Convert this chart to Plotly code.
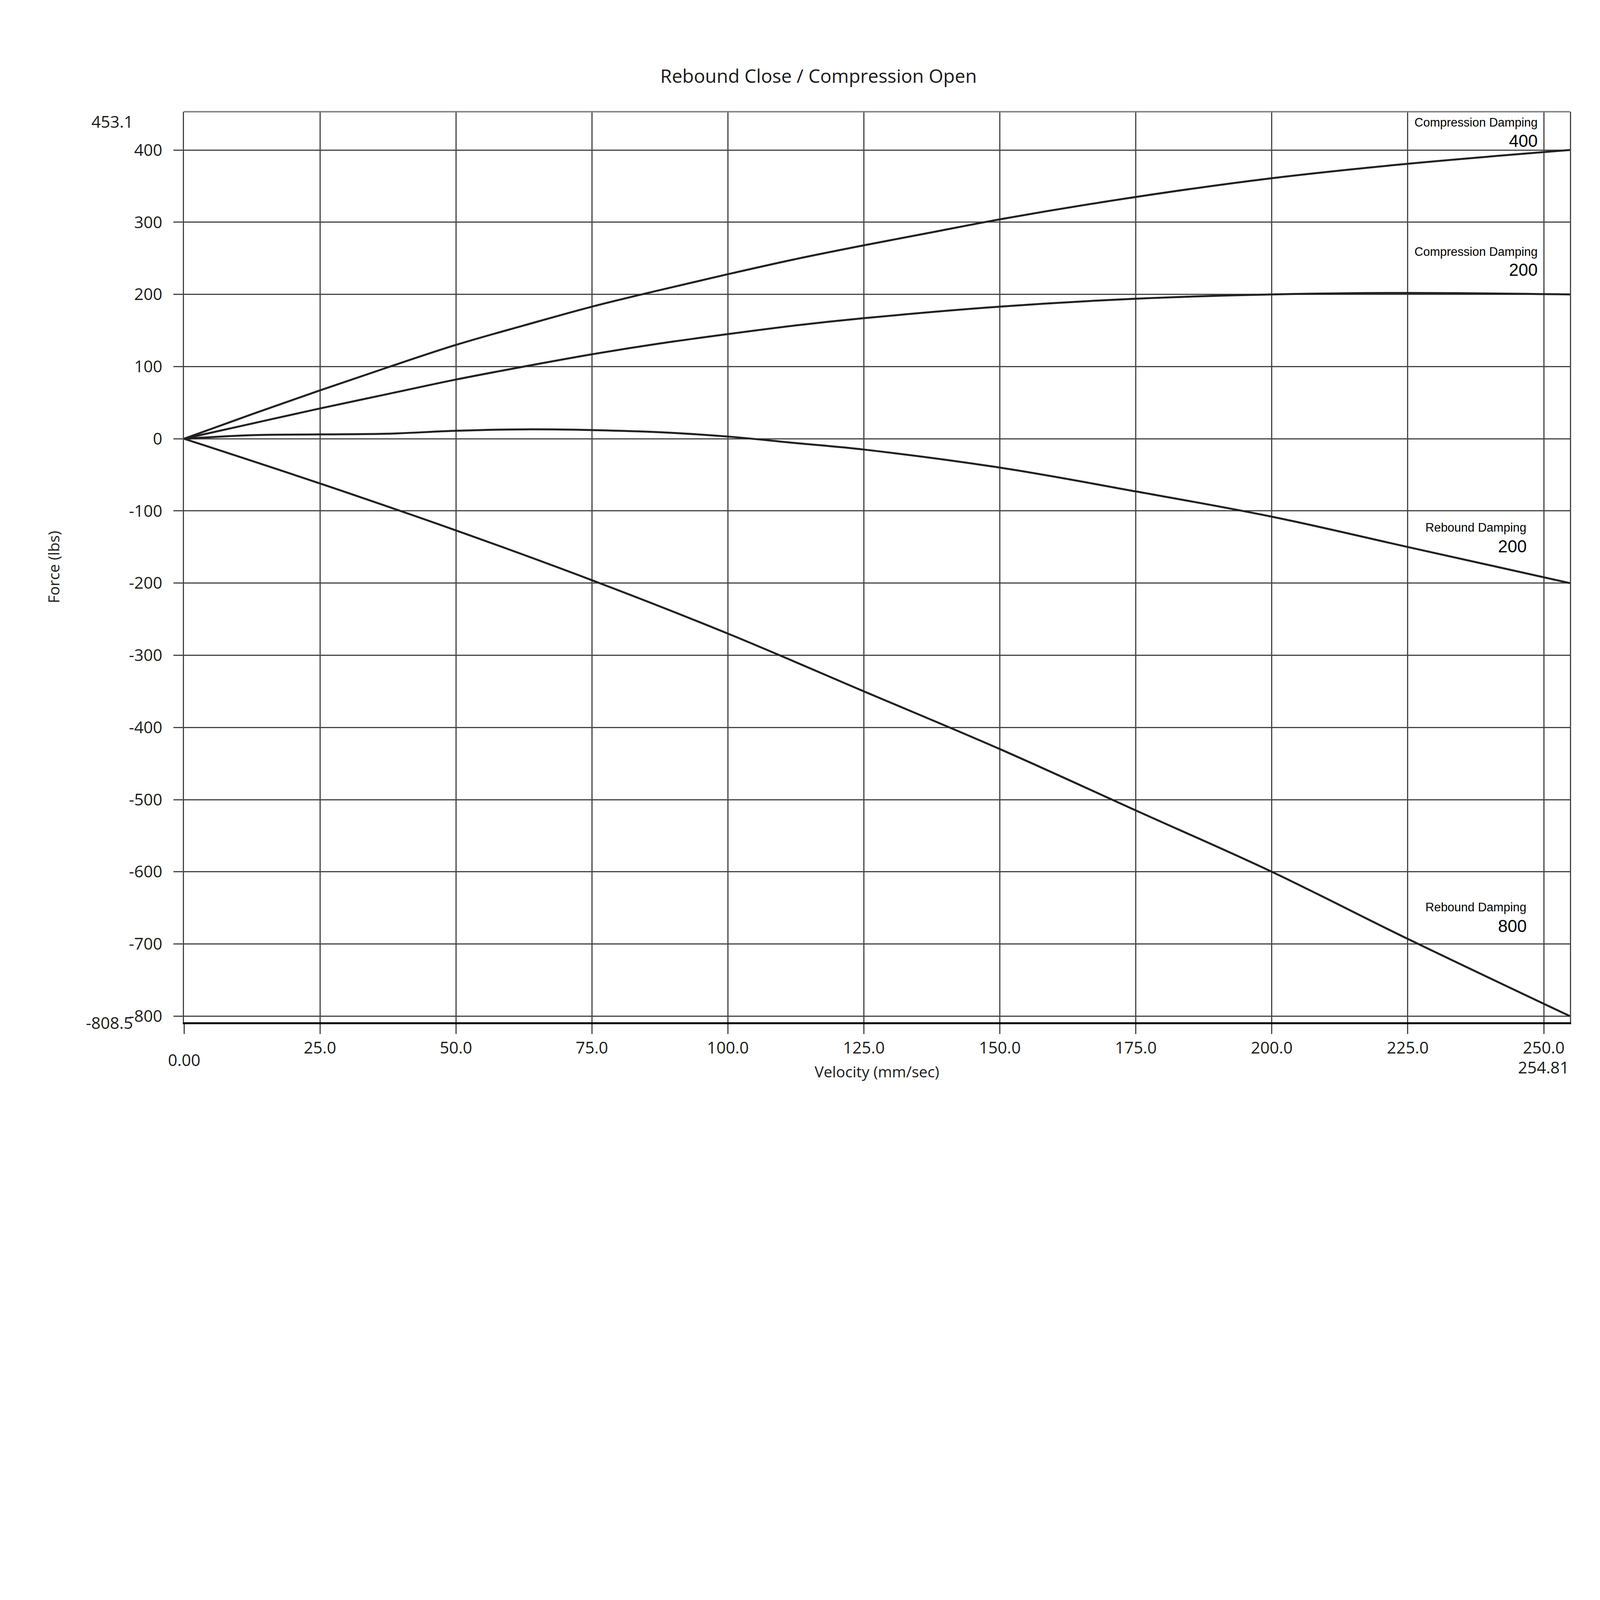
import plotly.graph_objects as go

# velocity (mm/sec) / force (lbs)
comp400_x = [0, 12.5, 25, 37.5, 50, 62.5, 75, 87.5, 100, 112.5, 125, 137.5, 150, 175, 200, 225, 254.81]
comp400_y = [0, 34, 67, 99, 130, 157, 183, 206, 228, 249, 268, 286, 304, 335, 361, 381, 400]

comp200_x = [0, 12.5, 25, 37.5, 50, 62.5, 75, 87.5, 100, 112.5, 125, 150, 175, 200, 225, 254.81]
comp200_y = [0, 21, 42, 62, 82, 100, 117, 132, 145, 157, 167, 183, 194, 200, 202, 200]

reb200_x = [0, 12.5, 25, 37.5, 50, 62.5, 75, 87.5, 100, 112.5, 125, 150, 175, 200, 225, 254.81]
reb200_y = [0, 5, 6, 7, 11, 13, 12, 9, 3, -6, -15, -40, -73, -108, -150, -200]

reb800_x = [0, 25, 50, 75, 100, 125, 150, 175, 200, 225, 254.81]
reb800_y = [0, -62, -127, -196, -270, -350, -430, -515, -600, -693, -800]

curve_names = ["Compression Damping", "Compression Damping", "Rebound Damping", "Rebound Damping"]
curve_values = ["400", "200", "200", "800"]

# label positions (data coords): x right edge, y of name, y of value
label_pos = [(249.0, 438, 413), (249.0, 259, 234), (247.0, -123, -149), (247.0, -649, -675)]

x_ticks = [0, 25, 50, 75, 100, 125, 150, 175, 200, 225, 250]
x_ticktext = ["", "25.0", "50.0", "75.0", "100.0", "125.0", "150.0", "175.0", "200.0", "225.0", "250.0"]
y_ticks = [400, 300, 200, 100, 0, -100, -200, -300, -400, -500, -600, -700, -800]
y_ticktext = ["400", "300", "200", "100", "0", "-100", "-200", "-300", "-400", "-500",
              "-600", "-700", "-800"]
x_min, x_max = 0, 254.81
y_min, y_max = -808.5, 453.1

# page is shot at 1.5x, so draw in css pixels
W, H = 4150, 2930
S = W / 6250


def px(v):
    return round(v * S)


line_col = "#231f20"
grid_col = "#444444"
tick_font = dict(family="Open Sans", size=px(63), color="#1a1a1a")

fig = go.Figure()
xs_all = [comp400_x, comp200_x, reb200_x, reb800_x]
ys_all = [comp400_y, comp200_y, reb200_y, reb800_y]
for xs, ys, name, val in zip(xs_all, ys_all, curve_names, curve_values):
    fig.add_trace(go.Scatter(x=xs, y=ys, mode="lines", name=name + " " + val,
                             line=dict(color=line_col, width=px(8), shape="spline", smoothing=1.0)))

for name, val, (lx, ly1, ly2) in zip(curve_names, curve_values, label_pos):
    fig.add_annotation(x=lx, y=ly1, text=name, showarrow=False, xanchor="right",
                       font=dict(family="Liberation Sans", size=px(46), color="black"))
    fig.add_annotation(x=lx, y=ly2, text=val, showarrow=False, xanchor="right",
                       font=dict(family="Liberation Sans", size=px(66), color="black"))

# range end labels
fig.add_annotation(x=-0.036, xref="paper", y=y_max, yshift=-px(36), text="453.1", showarrow=False,
                   xanchor="right", font=tick_font)
fig.add_annotation(x=-0.036, xref="paper", y=y_min, text="-808.5", showarrow=False,
                   xanchor="right", font=tick_font)
fig.add_annotation(x=x_min, y=-0.028, yref="paper", text="0.00", showarrow=False,
                   yanchor="top", font=tick_font)
fig.add_annotation(x=x_max, y=-0.036, yref="paper", text="254.81", showarrow=False,
                   xanchor="right", yanchor="top", font=tick_font)

# top frame line in light gray
fig.add_shape(type="line", xref="paper", yref="paper", x0=0, x1=1, y0=1, y1=1,
              line=dict(color="#888888", width=px(6)))

fig.update_layout(
    width=W, height=H,
    margin=dict(l=px(697), r=px(210), t=px(419), b=px(483)),
    paper_bgcolor="white", plot_bgcolor="white",
    showlegend=False,
    title=dict(text="Rebound Close / Compression Open", x=0.503, xanchor="center",
               y=1 - 282 / 4417, yanchor="middle",
               font=dict(family="Open Sans", size=px(72), color="#1a1a1a")),
    xaxis=dict(range=[x_min, x_max], tickvals=x_ticks, ticktext=x_ticktext,
               showgrid=True, gridcolor=grid_col, gridwidth=px(4), zeroline=False,
               ticks="outside", ticklen=px(38), tickwidth=px(4), tickcolor=grid_col,
               ticklabelstandoff=0,
               showline=True, linecolor="black", linewidth=px(7), mirror=False,
               tickfont=tick_font,
               title=dict(text="Velocity (mm/sec)", standoff=px(36),
                          font=dict(family="Open Sans", size=px(58), color="#1a1a1a"))),
    yaxis=dict(range=[y_min, y_max], tickvals=y_ticks, ticktext=y_ticktext,
               showgrid=True, gridcolor=grid_col, gridwidth=px(4), zeroline=False,
               ticks="outside", ticklen=px(36), tickwidth=px(4), tickcolor=grid_col,
               ticklabelstandoff=px(30),
               showline=True, linecolor=grid_col, linewidth=px(5), mirror=True,
               tickfont=tick_font,
               title=dict(text="Force (lbs)", standoff=px(250),
                          font=dict(family="Open Sans", size=px(58), color="#1a1a1a"))),
)

fig.write_html("out.html")
